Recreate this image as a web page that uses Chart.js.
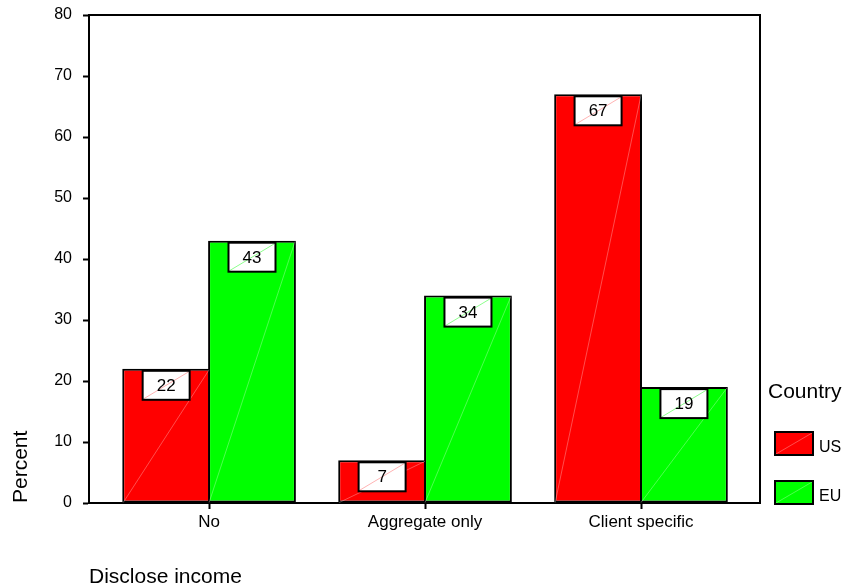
<!DOCTYPE html>
<html>
<head>
<meta charset="utf-8">
<title>Disclose income by country</title>
<script src="https://cdn.jsdelivr.net/npm/chart.js@4/dist/chart.umd.min.js"></script>
<style>
  html, body { margin: 0; padding: 0; background: #fff; }
  #wrap { width: 846px; height: 586px; }
</style>
</head>
<body>
<div id="wrap"><canvas id="incomeChart" width="846" height="586"></canvas></div>
<script>
const categories = ["No", "Aggregate only", "Client specific"];
const countries = ["US", "EU"];
const usValues = [22, 7, 67];
const euValues = [43, 34, 19];
const yTicks = [0, 10, 20, 30, 40, 50, 60, 70, 80];
const countryColors = ["#ff0000", "#00ff00"];

const FONT = "'Liberation Sans', Arial, Helvetica, sans-serif";
Chart.defaults.font.family = FONT;
Chart.defaults.color = "#000";

// top and right edges of the plot box
const framePlugin = {
  id: "frame",
  afterDraw(chart) {
    const { ctx, chartArea: a } = chart;
    ctx.save();
    ctx.strokeStyle = "#000";
    ctx.lineWidth = 2;
    ctx.beginPath();
    ctx.moveTo(a.left, a.top);
    ctx.lineTo(a.right, a.top);
    ctx.lineTo(a.right, a.bottom);
    ctx.stroke();
    ctx.restore();
  }
};

// white value boxes at the top of each bar, plus the faint diagonal seams
const valueLabels = {
  id: "valueLabels",
  afterDatasetsDraw(chart) {
    const ctx = chart.ctx;
    ctx.save();
    chart.data.datasets.forEach((ds, di) => {
      const meta = chart.getDatasetMeta(di);
      meta.data.forEach((bar, i) => {
        const { x, y, base, width } = bar.getProps(["x", "y", "base", "width"], true);
        ctx.strokeStyle = "rgba(255,255,255,0.3)";
        ctx.lineWidth = 1;
        ctx.beginPath();
        ctx.moveTo(x - width / 2 + 1, base);
        ctx.lineTo(x + width / 2 - 1, y + 1);
        ctx.stroke();

        const bw = 47, bh = 29;
        const bx = x - bw / 2, by = y + 2;
        ctx.fillStyle = "#fff";
        ctx.fillRect(bx, by, bw, bh);
        ctx.strokeStyle = di === 0 ? "rgba(255,0,0,0.3)" : "rgba(0,255,0,0.45)";
        ctx.lineWidth = 1;
        ctx.beginPath();
        ctx.moveTo(bx + 1, by + bh - 1);
        ctx.lineTo(bx + bw - 1, by + 1);
        ctx.stroke();
        ctx.strokeStyle = "#000";
        ctx.lineWidth = 2;
        ctx.strokeRect(bx, by, bw, bh);

        ctx.fillStyle = "#000";
        ctx.font = "17px " + FONT;
        ctx.textAlign = "center";
        ctx.textBaseline = "middle";
        ctx.fillText(String(ds.data[i].y), x, by + bh / 2 + 1);
      });
    });
    ctx.restore();
  }
};

// legend block on the right: "Country" with two swatches
const countryLegend = {
  id: "countryLegend",
  afterDraw(chart) {
    const ctx = chart.ctx;
    ctx.save();
    ctx.fillStyle = "#000";
    ctx.font = "21px " + FONT;
    ctx.textAlign = "left";
    ctx.textBaseline = "middle";
    ctx.fillText("Country", 768, 392);

    countries.forEach((name, i) => {
      const sx = 775, sy = 432 + i * 49, sw = 38, sh = 23;
      ctx.fillStyle = countryColors[i];
      ctx.fillRect(sx, sy, sw, sh);
      ctx.strokeStyle = "rgba(255,255,255,0.3)";
      ctx.lineWidth = 1;
      ctx.beginPath();
      ctx.moveTo(sx + 1, sy + sh - 1);
      ctx.lineTo(sx + sw - 1, sy + 1);
      ctx.stroke();
      ctx.strokeStyle = "#000";
      ctx.lineWidth = 2;
      ctx.strokeRect(sx, sy, sw, sh);

      ctx.fillStyle = "#000";
      ctx.font = "16px " + FONT;
      ctx.fillText(name, 819, sy + 16);
    });
    ctx.restore();
  }
};

const ctx = document.getElementById("incomeChart").getContext("2d");

new Chart(ctx, {
  type: "bar",
  data: {
    datasets: [
      {
        label: countries[0],
        data: usValues.map((v, i) => ({ x: i, y: v })),
        backgroundColor: countryColors[0],
        borderColor: "#000",
        borderWidth: 2,
        borderSkipped: false
      },
      {
        label: countries[1],
        data: euValues.map((v, i) => ({ x: i, y: v })),
        backgroundColor: countryColors[1],
        borderColor: "#000",
        borderWidth: 2,
        borderSkipped: false
      }
    ]
  },
  options: {
    responsive: false,
    animation: false,
    events: [],
    // bars slightly wider than their slot so neighbouring borders share one line
    categoryPercentage: 0.795,
    barPercentage: 1.023,
    layout: { padding: { top: 15, right: 86, left: 0, bottom: 0 } },
    plugins: {
      legend: { display: false },
      tooltip: { enabled: false }
    },
    scales: {
      x: {
        type: "linear",
        offset: false,
        min: -0.556,
        max: 2.551,
        afterBuildTicks: scale => { scale.ticks = categories.map((c, i) => ({ value: i })); },
        afterFit: scale => {
          scale.height = 83;
          scale.paddingLeft = 0;
          scale.paddingRight = 0;
        },
        ticks: {
          padding: 3,
          maxRotation: 0,
          font: { size: 17 },
          callback: value => categories[value]
        },
        grid: {
          offset: false,
          drawOnChartArea: false,
          drawTicks: true,
          tickLength: 6,
          tickWidth: 2,
          tickColor: "#000"
        },
        border: { display: true, color: "#000", width: 2 },
        title: {
          display: true,
          text: "Disclose income",
          align: "start",
          font: { size: 21, lineHeight: 0.8 },
          padding: { top: 0, bottom: 0 }
        }
      },
      y: {
        min: yTicks[0],
        max: yTicks[yTicks.length - 1],
        afterBuildTicks: scale => { scale.ticks = yTicks.map(v => ({ value: v })); },
        afterFit: scale => {
          scale.width = 89;
          scale.paddingTop = 0;
          scale.paddingBottom = 0;
        },
        ticks: {
          padding: 11,
          font: { size: 16 }
        },
        grid: {
          drawOnChartArea: false,
          drawTicks: true,
          tickLength: 6,
          tickWidth: 2,
          tickColor: "#000"
        },
        border: { display: true, color: "#000", width: 2 },
        title: {
          display: true,
          text: "Percent",
          align: "start",
          font: { size: 21 },
          padding: { top: 9, bottom: 0 }
        }
      }
    }
  },
  plugins: [framePlugin, valueLabels, countryLegend]
});
</script>
</body>
</html>
